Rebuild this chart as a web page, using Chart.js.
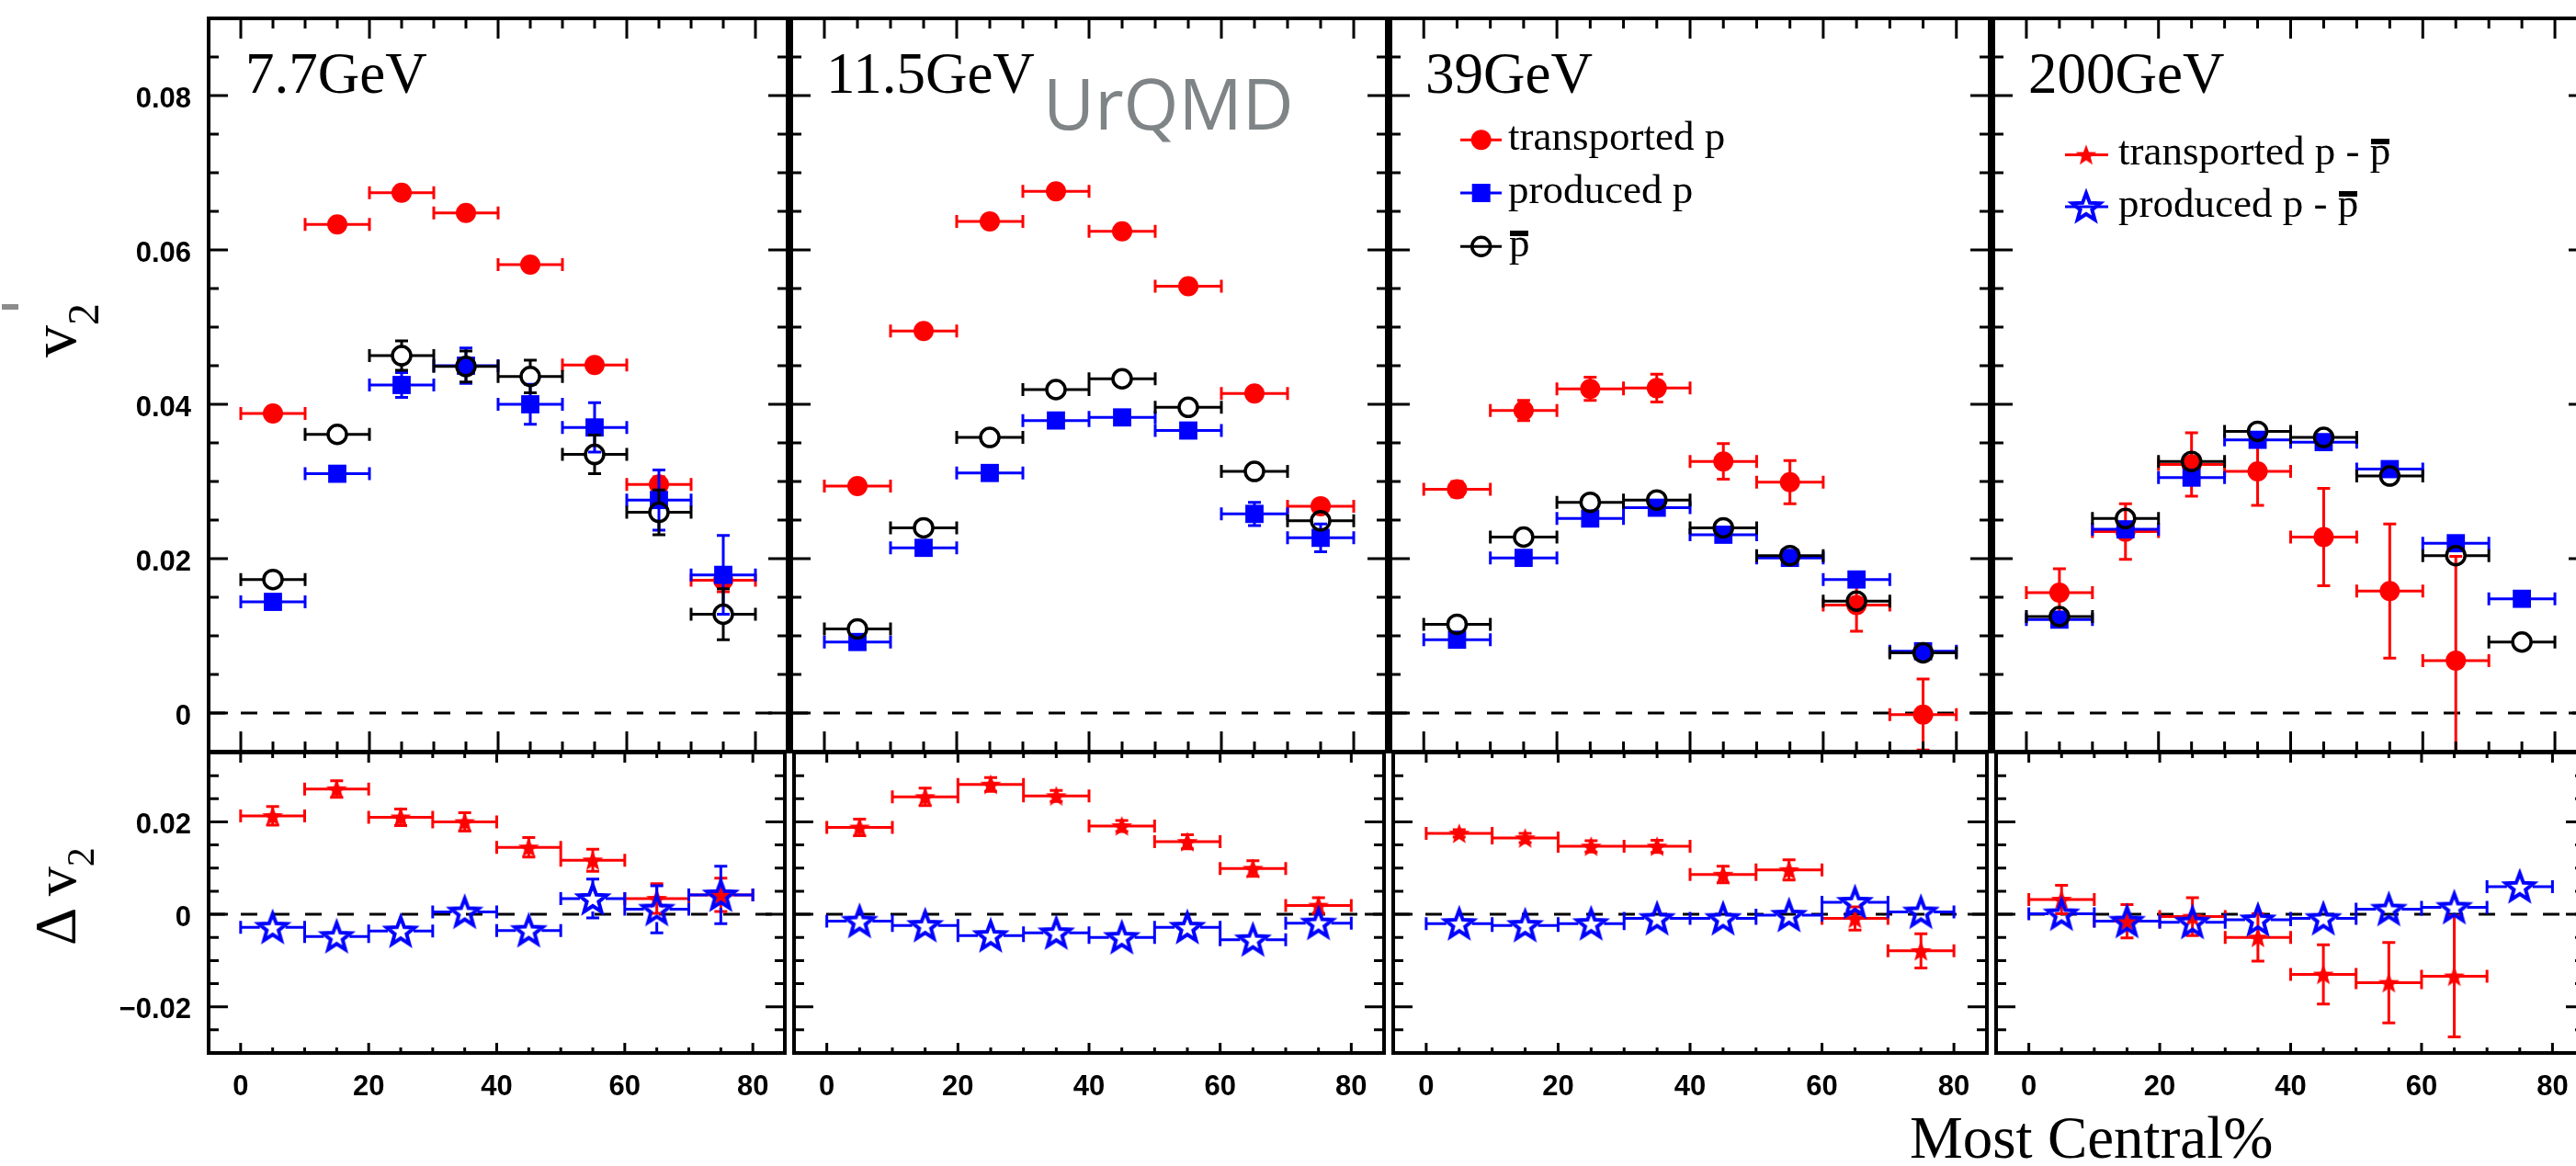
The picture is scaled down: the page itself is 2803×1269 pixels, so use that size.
<!DOCTYPE html>
<html>
<head>
<meta charset="utf-8">
<title>v2 vs centrality, UrQMD</title>
<script src="https://cdn.jsdelivr.net/npm/chart.js@4.4.1/dist/chart.umd.min.js"></script>
<style>
  html, body { margin: 0; padding: 0; background: #fff; }
  body { width: 2803px; height: 1269px; position: relative; overflow: hidden; }
  canvas { position: absolute; }
  .t { position: absolute; white-space: nowrap; line-height: 1; color: #000;
       font-family: "Liberation Serif", "Times New Roman", serif; }
  .pbar { position: relative; display: inline-block; }
  .pbar::after { content: ""; position: absolute; left: 0.03em; right: 0.03em; top: 0.19em; height: 0.13em; background: #000; }
</style>
</head>
<body>
<script>
// values, one row per energy: 7.7, 11.5, 39, 200 GeV
const centrality = [5, 15, 25, 35, 45, 55, 65, 75];
const binHalfWidth = 5;
const energyLabels = ['7.7GeV', '11.5GeV', '39GeV', '200GeV'];

const v2Transported = [
  [0.0388, 0.0633, 0.0674, 0.0648, 0.0581, 0.0451, 0.0296, 0.0172],
  [0.0294, 0.0495, 0.0637, 0.0676, 0.0624, 0.0553, 0.0414, 0.0268],
  [0.0290, 0.0392, 0.0420, 0.0421, 0.0326, 0.0299, 0.0140, -0.0002],
  [0.0156, 0.0235, 0.0322, 0.0313, 0.0228, 0.0158, 0.0068, null]
];
const v2TransportedErr = [
  [0.0004, 0.0004, 0.0004, 0.0004, 0.0004, 0.0005, 0.0010, 0.0015],
  [0.0003, 0.0003, 0.0003, 0.0003, 0.0003, 0.0004, 0.0005, 0.0008],
  [0.0010, 0.0013, 0.0015, 0.0018, 0.0023, 0.0028, 0.0034, 0.0046],
  [0.0031, 0.0036, 0.0041, 0.0044, 0.0063, 0.0087, 0.0135, null]
];
const v2Produced = [
  [0.0144, 0.0310, 0.0425, 0.0450, 0.0400, 0.0370, 0.0276, 0.0179],
  [0.0092, 0.0214, 0.0311, 0.0379, 0.0383, 0.0366, 0.0258, 0.0227],
  [0.0095, 0.0201, 0.0252, 0.0266, 0.0231, 0.0201, 0.0173, 0.0080],
  [0.0121, 0.0238, 0.0305, 0.0354, 0.0351, 0.0316, 0.0220, 0.0148]
];
const v2ProducedErr = [
  [0.0005, 0.0008, 0.0016, 0.0023, 0.0026, 0.0032, 0.0039, 0.0051],
  [0.0003, 0.0005, 0.0005, 0.0006, 0.0007, 0.0009, 0.0015, 0.0018],
  [0.0003, 0.0004, 0.0005, 0.0005, 0.0006, 0.0007, 0.0008, 0.0010],
  [0.0003, 0.0004, 0.0005, 0.0005, 0.0006, 0.0006, 0.0008, 0.0009]
];
const v2AntiP = [
  [0.0173, 0.0361, 0.0463, 0.0449, 0.0436, 0.0335, 0.0260, 0.0128],
  [0.0109, 0.0240, 0.0357, 0.0419, 0.0433, 0.0396, 0.0313, 0.0249],
  [0.0115, 0.0228, 0.0273, 0.0276, 0.0240, 0.0204, 0.0145, 0.0078],
  [0.0125, 0.0252, 0.0326, 0.0365, 0.0357, 0.0307, 0.0204, 0.0092]
];
const v2AntiPErr = [
  [0.0013, 0.0012, 0.0019, 0.0020, 0.0021, 0.0025, 0.0029, 0.0033],
  [0.0004, 0.0005, 0.0006, 0.0006, 0.0007, 0.0008, 0.0009, 0.0011],
  [0.0003, 0.0004, 0.0004, 0.0005, 0.0005, 0.0006, 0.0007, 0.0008],
  [0.0004, 0.0005, 0.0006, 0.0006, 0.0007, 0.0007, 0.0008, 0.0009]
];
const dv2Transported = [
  [0.0213, 0.0271, 0.0210, 0.0200, 0.0145, 0.0117, 0.0034, 0.0042],
  [0.0188, 0.0254, 0.0281, 0.0256, 0.0191, 0.0157, 0.0099, 0.0019],
  [0.0175, 0.0165, 0.0147, 0.0147, 0.0086, 0.0096, -0.0009, -0.0079],
  [0.0032, -0.0015, -0.0005, -0.0050, -0.0130, -0.0148, -0.0134, null]
];
const dv2TransportedErr = [
  [0.0020, 0.0018, 0.0018, 0.0020, 0.0021, 0.0024, 0.0032, 0.0036],
  [0.0018, 0.0019, 0.0015, 0.0012, 0.0012, 0.0015, 0.0017, 0.0017],
  [0.0008, 0.0010, 0.0012, 0.0013, 0.0018, 0.0022, 0.0025, 0.0037],
  [0.0031, 0.0036, 0.0041, 0.0051, 0.0064, 0.0087, 0.0131, null]
];
const dv2Produced = [
  [-0.0028, -0.0048, -0.0036, 0.0005, -0.0035, 0.0034, 0.0011, 0.0042],
  [-0.0015, -0.0024, -0.0046, -0.0040, -0.0050, -0.0028, -0.0055, -0.0019],
  [-0.0020, -0.0024, -0.0020, -0.0009, -0.0009, -0.0002, 0.0026, 0.0005],
  [0.0001, -0.0015, -0.0017, -0.0012, -0.0009, 0.0011, 0.0015, 0.0060]
];
const dv2ProducedErr = [
  [0.0015, 0.0020, 0.0020, 0.0022, 0.0025, 0.0042, 0.0051, 0.0062],
  [0.0007, 0.0008, 0.0008, 0.0008, 0.0009, 0.0010, 0.0012, 0.0014],
  [0.0006, 0.0007, 0.0008, 0.0008, 0.0009, 0.0010, 0.0022, 0.0012],
  [0.0007, 0.0008, 0.0009, 0.0010, 0.0010, 0.0011, 0.0012, 0.0013]
];

const xTickLabels = [0, 20, 40, 60, 80];
const v2TickLabels = [0, 0.02, 0.04, 0.06, 0.08];
const dv2TickLabels = [-0.02, 0, 0.02];

const xMinorTicks = [];
for (let v = 5; v < 80; v += 5) if (v % 20) xMinorTicks.push(v);
const v2MinorTicks = [];
for (let k = -1; k <= 18; k++) if (k % 4) v2MinorTicks.push(k * 0.005);
const dv2MinorTicks = [];
for (let k = -6; k <= 7; k++) if (k % 4) dv2MinorTicks.push(k * 0.005);

// page layout (px)
const frameLeft = [227, 859, 1511, 2167];
const frameRight = [859, 1511, 2167, 2818];
const upperTop = 20, split = 819, lowerBottom = 1146;

const RED = '#ff0000', BLUE = '#0000ff';

// star markers
function starPath(g, cx, cy, R, r) {
  g.beginPath();
  for (let k = 0; k < 10; k++) {
    const a = -Math.PI / 2 + k * Math.PI / 5;
    const rad = k % 2 ? r : R;
    g.lineTo(cx + rad * Math.cos(a), cy + rad * Math.sin(a));
  }
  g.closePath();
}
function starImage(R, color, filled) {
  const c = document.createElement('canvas');
  const s = Math.ceil(2 * R + 10);
  c.width = c.height = s;
  const g = c.getContext('2d');
  starPath(g, s / 2, s / 2 + R * 0.08, R, R * 0.42);
  if (filled) { g.fillStyle = color; g.fill(); }
  else { g.strokeStyle = color; g.lineWidth = 4; g.lineJoin = 'miter'; g.stroke(); }
  return c;
}
const redStar = starImage(12, RED, true);
const blueStar = starImage(16, BLUE, false);

function points(vals, errs) {
  const out = [];
  centrality.forEach((c, k) => {
    if (vals[k] !== null) out.push({ x: c, y: vals[k], e: errs[k] });
  });
  return out;
}

function drawErrors(chart, ds) {
  const { ctx, chartArea: a, scales: { x, y } } = chart;
  const cap = 7, g = ds.gap;
  ctx.save();
  ctx.beginPath();
  ctx.rect(a.left, a.top, a.right - a.left, a.bottom - a.top);
  ctx.clip();
  ctx.strokeStyle = ds.errColor;
  ctx.lineWidth = 3;
  ctx.beginPath();
  ds.data.forEach(p => {
    const px = x.getPixelForValue(p.x), py = y.getPixelForValue(p.y);
    const xl = x.getPixelForValue(p.x - binHalfWidth), xr = x.getPixelForValue(p.x + binHalfWidth);
    ctx.moveTo(xl, py); ctx.lineTo(px - g, py);
    ctx.moveTo(px + g, py); ctx.lineTo(xr, py);
    ctx.moveTo(xl, py - cap); ctx.lineTo(xl, py + cap);
    ctx.moveTo(xr, py - cap); ctx.lineTo(xr, py + cap);
    const yt = y.getPixelForValue(p.y + p.e), yb = y.getPixelForValue(p.y - p.e);
    if (py - yt > g) {
      ctx.moveTo(px, py - g); ctx.lineTo(px, yt);
      ctx.moveTo(px, py + g); ctx.lineTo(px, yb);
      ctx.moveTo(px - cap, yt); ctx.lineTo(px + cap, yt);
      ctx.moveTo(px - cap, yb); ctx.lineTo(px + cap, yb);
    }
  });
  ctx.stroke();
  ctx.restore();
}

function drawMarker(ctx, kind, x, y) {
  ctx.save();
  if (kind === 'circle') {
    ctx.fillStyle = RED; ctx.beginPath(); ctx.arc(x, y, 11, 0, Math.PI * 2); ctx.fill();
  } else if (kind === 'square') {
    ctx.fillStyle = BLUE; ctx.fillRect(x - 10, y - 10, 20, 20);
  } else if (kind === 'open') {
    ctx.strokeStyle = '#000'; ctx.lineWidth = 3.5; ctx.beginPath(); ctx.arc(x, y, 10, 0, Math.PI * 2); ctx.stroke();
  } else {
    const img = kind === 'redStar' ? redStar : blueStar;
    ctx.drawImage(img, x - img.width / 2, y - img.height / 2);
  }
  ctx.restore();
}

// legend marks in page coordinates
const legendMarks = {
  2: { x1: 1589, x2: 1634, cx: 1611.7, rows: [[152.3, 'circle', RED], [210, 'square', BLUE], [268.3, 'open', '#000']] },
  3: { x1: 2247, x2: 2294, cx: 2270, rows: [[168.4, 'redStar', RED], [224.9, 'blueStar', BLUE]] }
};

const rootFrame = {
  id: 'rootFrame',
  beforeDatasetDraw(chart, args) {
    const ds = chart.data.datasets[args.index];
    if (ds.errColor) drawErrors(chart, ds);
  },
  afterDraw(chart, args, o) {
    const { ctx, chartArea: a, scales: { x, y } } = chart;
    const xMaj = o.lower ? 11 : 22, xMin = o.lower ? 6 : 11;
    ctx.save();
    ctx.strokeStyle = '#000';
    ctx.lineWidth = 3;
    ctx.beginPath();
    const xt = (vals, len) => vals.forEach(v => {
      const p = x.getPixelForValue(v);
      ctx.moveTo(p, a.bottom); ctx.lineTo(p, a.bottom - len);
      ctx.moveTo(p, a.top); ctx.lineTo(p, a.top + len);
    });
    const yt = (vals, len) => vals.forEach(v => {
      const p = y.getPixelForValue(v);
      ctx.moveTo(a.left, p); ctx.lineTo(a.left + len, p);
      ctx.moveTo(a.right, p); ctx.lineTo(a.right - len, p);
    });
    xt(xTickLabels, xMaj);
    xt(xMinorTicks, xMin);
    yt(o.lower ? dv2TickLabels : v2TickLabels, 21);
    yt(o.lower ? dv2MinorTicks : v2MinorTicks, 11);
    ctx.stroke();
    ctx.lineWidth = 4;
    ctx.strokeRect(a.left, a.top, a.right - a.left, a.bottom - a.top);

    const lg = o.lower ? null : legendMarks[o.panel];
    if (lg) {
      lg.rows.forEach(([py, kind, col]) => {
        const yy = py - o.oy;
        ctx.strokeStyle = col; ctx.lineWidth = 3;
        ctx.beginPath(); ctx.moveTo(lg.x1 - o.ox, yy); ctx.lineTo(lg.x2 - o.ox, yy); ctx.stroke();
        drawMarker(ctx, kind, lg.cx - o.ox, yy);
      });
    }
    ctx.restore();
  }
};

const tickFont = { family: "'Liberation Sans', Arial, sans-serif", size: 31, weight: 'bold' };
const fmtY = v => v === 0 ? '0' : (v < 0 ? '\u2212' : '') + Math.abs(v).toFixed(2);

function zeroLine() {
  return { data: [{ x: -5, y: 0 }, { x: 85, y: 0 }], showLine: true, borderColor: '#000',
           borderWidth: 3, borderDash: [18, 17], pointRadius: 0, order: 10 };
}

function makePanel(i, lower) {
  const mL = i === 0 ? frameLeft[0] : 12, mR = 12;
  const cTop = lower ? 800 : 0, cBottom = lower ? 1269 : 832;
  const fTop = lower ? split : upperTop, fBot = lower ? lowerBottom : split;
  const canvas = document.createElement('canvas');
  canvas.width = frameRight[i] - frameLeft[i] + mL + mR;
  canvas.height = cBottom - cTop;
  const ox = frameLeft[i] - mL;
  canvas.style.left = ox + 'px';
  canvas.style.top = cTop + 'px';
  document.body.appendChild(canvas);

  let datasets;
  if (!lower) {
    datasets = [
      zeroLine(),
      { label: 'transported p', data: points(v2Transported[i], v2TransportedErr[i]), pointStyle: 'circle',
        pointRadius: 11, backgroundColor: RED, borderWidth: 0, errColor: RED, gap: 0, order: 3 },
      { label: 'produced p', data: points(v2Produced[i], v2ProducedErr[i]), pointStyle: 'rect',
        pointRadius: 14, backgroundColor: BLUE, borderWidth: 0, errColor: BLUE, gap: 0, order: 2 },
      { label: 'pbar', data: points(v2AntiP[i], v2AntiPErr[i]), pointStyle: 'circle',
        pointRadius: 10, backgroundColor: 'rgba(0,0,0,0)', borderColor: '#000', borderWidth: 3.5,
        errColor: '#000', gap: 11, order: 1 }
    ];
  } else {
    datasets = [
      zeroLine(),
      { label: 'transported p - pbar', data: points(dv2Transported[i], dv2TransportedErr[i]),
        pointStyle: redStar, pointRadius: 12, errColor: RED, gap: 0, order: 2 },
      { label: 'produced p - pbar', data: points(dv2Produced[i], dv2ProducedErr[i]),
        pointStyle: blueStar, pointRadius: 16, errColor: BLUE, gap: 14, order: 1 }
    ];
  }

  const showX = lower, showY = i === 0;
  new Chart(canvas, {
    type: 'scatter',
    data: { datasets },
    options: {
      responsive: false,
      animation: false,
      events: [],
      devicePixelRatio: 1,
      layout: { padding: { left: showY ? 0 : mL, right: mR, top: fTop - cTop, bottom: showX ? 0 : cBottom - fBot } },
      plugins: { legend: { display: false }, tooltip: { enabled: false },
                 rootFrame: { lower, panel: i, ox, oy: cTop } },
      scales: {
        x: {
          type: 'linear', min: -5, max: 85, display: showX,
          grid: { display: false, drawTicks: false }, border: { display: false },
          afterBuildTicks: s => { s.ticks = xTickLabels.map(v => ({ value: v })); },
          afterFit: s => {
            if (!showX) return;
            s.height = cBottom - fBot;
            s.paddingLeft = 0; s.paddingRight = 0;
          },
          ticks: { font: tickFont, color: '#000', padding: 19, maxRotation: 0, autoSkip: false,
                   callback: v => String(v) }
        },
        y: {
          type: 'linear', min: lower ? -0.03 : -0.005, max: lower ? 0.035 : 0.09, display: showY,
          grid: { display: false, drawTicks: false }, border: { display: false },
          afterBuildTicks: s => { s.ticks = (lower ? dv2TickLabels : v2TickLabels).map(v => ({ value: v })); },
          afterFit: s => {
            if (!showY) return;
            s.width = mL;
            s.paddingTop = 0; s.paddingBottom = 0;
          },
          ticks: { font: tickFont, color: '#000', padding: 19, labelOffset: 4, autoSkip: false, callback: fmtY }
        }
      }
    },
    plugins: [rootFrame]
  });
}

for (let i = 0; i < 4; i++) { makePanel(i, false); makePanel(i, true); }

// text
const ascent = { serif: 0.8375, sans: 0.888 };
function addText(html, left, baseline, size, kind, extra) {
  const d = document.createElement('div');
  d.className = 't';
  d.innerHTML = html;
  d.style.left = left + 'px';
  d.style.top = (baseline - size * ascent[kind || 'serif']) + 'px';
  d.style.fontSize = size + 'px';
  if (extra) Object.assign(d.style, extra);
  document.body.appendChild(d);
  return d;
}

energyLabels.forEach((lbl, i) => addText(lbl, frameLeft[i] + 40, 102, 63));
addText('UrQMD', 1135, 141, 77, 'sans', { fontFamily: "'Open Sans', sans-serif", color: '#7f8486' });

addText('transported p', 1641, 163.3, 45);
addText('produced p', 1641, 221.7, 45);
addText('<span class="pbar">p</span>', 1642, 280, 45);
addText('transported p - <span class="pbar">p</span>', 2305, 180, 45);
addText('produced p - <span class="pbar">p</span>', 2305, 237, 45);

addText('Most Central%', 2078, 1260, 65);

function addRotated(html, baselineX, startY, size) {
  const d = document.createElement('div');
  d.className = 't';
  d.innerHTML = html;
  d.style.fontSize = size + 'px';
  d.style.left = (baselineX - size * ascent.serif) + 'px';
  d.style.top = startY + 'px';
  d.style.transformOrigin = '0 0';
  d.style.transform = 'rotate(-90deg)';
  document.body.appendChild(d);
}
addRotated('v<span style="font-size:48px;vertical-align:-25px">2</span>', 83, 389, 70);
addRotated('\u0394 v<span style="font-size:42px;vertical-align:-20px">2</span>', 83, 1029, 64);

const dash = document.createElement('div');
Object.assign(dash.style, { position: 'absolute', left: '2px', top: '331px', width: '18px', height: '6px', background: '#8c8c8c' });
document.body.appendChild(dash);
</script>
</body>
</html>
